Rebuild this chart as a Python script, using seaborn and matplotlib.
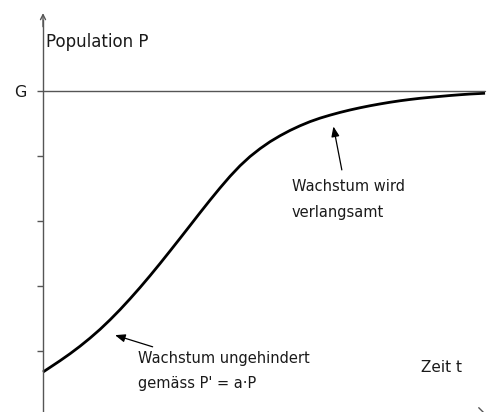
import seaborn as sns
import matplotlib.pyplot as plt
import pandas as pd

# logistic growth curve (t = time, P = population)
zeit = [0.0, 0.158, 0.385, 0.611, 0.837, 1.063, 1.290, 1.516, 1.742, 1.968,
        2.195, 2.421, 2.647, 2.873, 3.100, 3.326, 3.552, 3.778, 4.005, 4.231,
        4.457, 4.683, 4.910, 5.136, 5.362, 5.588, 5.814, 6.041, 6.267, 6.493,
        6.719, 6.946, 7.172, 7.398, 7.624, 7.851, 8.077, 8.303, 8.529, 8.756,
        8.982, 9.208, 9.434, 9.661, 9.887, 10.0]
population = [0.671, 0.742, 0.845, 0.953, 1.069, 1.194, 1.329, 1.476, 1.633, 1.800,
              1.975, 2.157, 2.345, 2.538, 2.734, 2.931, 3.129, 3.323, 3.512, 3.691,
              3.854, 3.996, 4.118, 4.225, 4.317, 4.399, 4.471, 4.535, 4.589, 4.635,
              4.677, 4.715, 4.749, 4.780, 4.808, 4.834, 4.857, 4.877, 4.895, 4.910,
              4.924, 4.938, 4.950, 4.961, 4.969, 4.973]
grenze = 5.0
tick_werte = [1, 2, 3, 4, 5]
tick_labels = ["", "", "", "", "G"]

df = pd.DataFrame({"t": zeit, "P": population})

sns.set_style("white")
plt.rcParams["font.family"] = ["DejaVu Sans"]

fig = plt.figure(figsize=(4.93, 4.12), dpi=100)
ax = fig.add_axes([0, 0, 1, 1])
ax.set_xlim(-0.973, 10.18)
ax.set_ylim(0.054, 6.412)

axis_col = "#555555"
text_col = "#1a1a1a"

# curve
sns.lineplot(data=df, x="t", y="P", color="black", linewidth=2.0, ax=ax,
             solid_joinstyle="round", solid_capstyle="butt")

# limit line G
ax.plot([0, 10.0], [grenze, grenze], color=axis_col, linewidth=1.0)

# axes
for s in ["top", "right", "bottom", "left"]:
    ax.spines[s].set_visible(False)
ax.spines["left"].set_visible(True)
ax.spines["left"].set_position(("data", 0))
ax.spines["left"].set_color(axis_col)
ax.spines["left"].set_linewidth(1.0)
ax.spines["left"].set_bounds(-0.2, 6.1)
ax.annotate("", xy=(0, 6.21), xytext=(0, 6.0),
            arrowprops=dict(arrowstyle="->", color=axis_col, lw=1.0,
                            mutation_scale=9, shrinkA=0, shrinkB=0))
ax.annotate("", xy=(10.1, -0.03), xytext=(0, -0.03),
            arrowprops=dict(arrowstyle="->,head_length=0.5,head_width=0.5",
                            color=axis_col, lw=1.0,
                            mutation_scale=14, shrinkA=0, shrinkB=0),
            annotation_clip=False)

ax.set_yticks(tick_werte)
ax.set_yticklabels(tick_labels)
ax.tick_params(axis="y", direction="out", length=4, width=1, color=axis_col,
               pad=8, labelsize=11.5, labelcolor=text_col, left=True)
ax.set_xticks([])
ax.set_xlabel("")
ax.set_ylabel("")

# texts
fs = 10.5
ax.text(0.07, 5.77, "Population P", fontsize=12, color=text_col,
        ha="left", va="center")
ax.text(8.55, 0.735, "Zeit t", fontsize=11, color=text_col,
        ha="left", va="center")
ax.text(5.63, 3.53, "Wachstum wird", fontsize=fs, color=text_col,
        ha="left", va="center")
ax.text(5.63, 3.14, "verlangsamt", fontsize=fs, color=text_col,
        ha="left", va="center")
ax.text(2.15, 0.88, "Wachstum ungehindert", fontsize=fs, color=text_col,
        ha="left", va="center")
ax.text(2.15, 0.49, "gemäss P' = a·P", fontsize=fs, color=text_col,
        ha="left", va="center")

# pointer arrows
ax.annotate("", xy=(6.57, 4.46), xytext=(6.76, 3.79),
            arrowprops=dict(arrowstyle="-|>,head_length=0.5,head_width=0.2",
                            color="black", lw=0.9,
                            mutation_scale=12, shrinkA=0, shrinkB=0))
ax.annotate("", xy=(1.63, 1.24), xytext=(2.48, 1.06),
            arrowprops=dict(arrowstyle="-|>,head_length=0.5,head_width=0.2",
                            color="black", lw=0.9,
                            mutation_scale=12, shrinkA=0, shrinkB=0))

fig.savefig("out.png", dpi=100)
plt.close(fig)
